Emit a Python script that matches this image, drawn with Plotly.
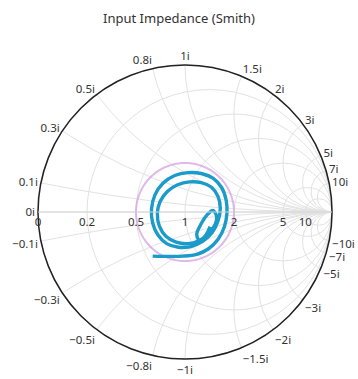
import numpy as np
import plotly.graph_objects as go

# Normalized input impedance z = r + jx along the frequency sweep
resistance = [0.5459, 0.6647, 0.8047, 0.980, 1.1872, 1.4417, 1.6823, 1.7968, 1.7439, 1.5437,
              1.2849, 1.0681, 0.8989, 0.7739, 0.6906, 0.6448, 0.6282, 0.6332, 0.6594, 0.7152,
              0.818, 0.9656, 1.1611, 1.3837, 1.5654, 1.6289, 1.5343, 1.3409, 1.1392, 0.9738,
              0.8474, 0.7582, 0.7033, 0.6834, 0.6911, 0.733, 0.8188, 0.9471, 1.112, 1.3074,
              1.4875, 1.5442, 1.4688, 1.3516, 1.2292, 1.1176, 1.1167, 1.2478, 1.3752]
reactance = [-0.3801, -0.4489, -0.5308, -0.6198, -0.651, -0.5829, -0.3664, -0.0391, 0.3049, 0.5596,
             0.6488, 0.6088, 0.5193, 0.4111, 0.2867, 0.157, 0.0265, -0.1004, -0.2171, -0.3278,
             -0.4175, -0.4812, -0.4912, -0.4095, -0.1986, 0.0865, 0.3434, 0.4796, 0.4807, 0.4171,
             0.3255, 0.2198, 0.1019, -0.0142, -0.1367, -0.253, -0.3518, -0.4272, -0.4551, -0.412,
             -0.266, -0.0972, 0.0305, -0.0553, -0.2004, -0.3453, -0.4444, -0.4182, -0.2862]

# Reference VSWR circle
vswr = 2.0

real_ticks = [0, 0.2, 0.5, 1, 2, 5, 10]
imag_ticks = [-10, -7, -5, -3, -2, -1.5, -1, -0.8, -0.5, -0.3, -0.1, 0,
              0.1, 0.3, 0.5, 0.8, 1, 1.5, 2, 3, 5, 7, 10]

# constant |Gamma| circle for the chosen VSWR, expressed as impedances
g = (vswr - 1) / (vswr + 1)
phi = np.linspace(0, 2 * np.pi, 181)
gam = g * np.exp(1j * phi)
zc = (1 + gam) / (1 - gam)

fig = go.Figure()
fig.add_trace(go.Scattersmith(
    real=zc.real, imag=zc.imag, mode="lines",
    line=dict(color="rgba(214,160,226,0.75)", width=2),
    hoverinfo="skip", showlegend=False,
))
fig.add_trace(go.Scattersmith(
    real=resistance, imag=reactance, mode="lines",
    line=dict(color="#1B9BC9", width=3.4, shape="spline"),
    name="Zin", showlegend=False,
))

axis_font = dict(family="Noto Sans, Open Sans, sans-serif", size=11.5, color="#333333")
fig.update_layout(
    width=358, height=379,
    margin=dict(l=38, r=26, t=65, b=20),
    paper_bgcolor="white",
    title=dict(text="Input Impedance (Smith)", x=0.5, xanchor="center",
               y=1 - 18 / 379, yanchor="middle", yref="container",
               font=dict(family="Noto Sans, Open Sans, sans-serif", size=13, color="#333333")),
    smith=dict(
        bgcolor="white",
        realaxis=dict(tickvals=real_ticks, gridcolor="#e2e2e2", linecolor="#d6d6d6",
                      linewidth=1, tickfont=axis_font, showline=True,
                      tickangle=0, side="bottom"),
        imaginaryaxis=dict(tickvals=imag_ticks, gridcolor="#e2e2e2", linecolor="#222222",
                           linewidth=1.5, tickfont=axis_font, showline=True,
                           ticksuffix="i"),
    ),
)

# no infinity label at the open-circuit end of the real axis
drop_infinity = """
var gd = document.getElementById('{plot_id}');
gd.querySelectorAll('text').forEach(function (t) {
  if (t.textContent.trim() === '\\u221e') { t.remove(); }
});
"""
fig.write_html("out.html", post_script=drop_infinity)
